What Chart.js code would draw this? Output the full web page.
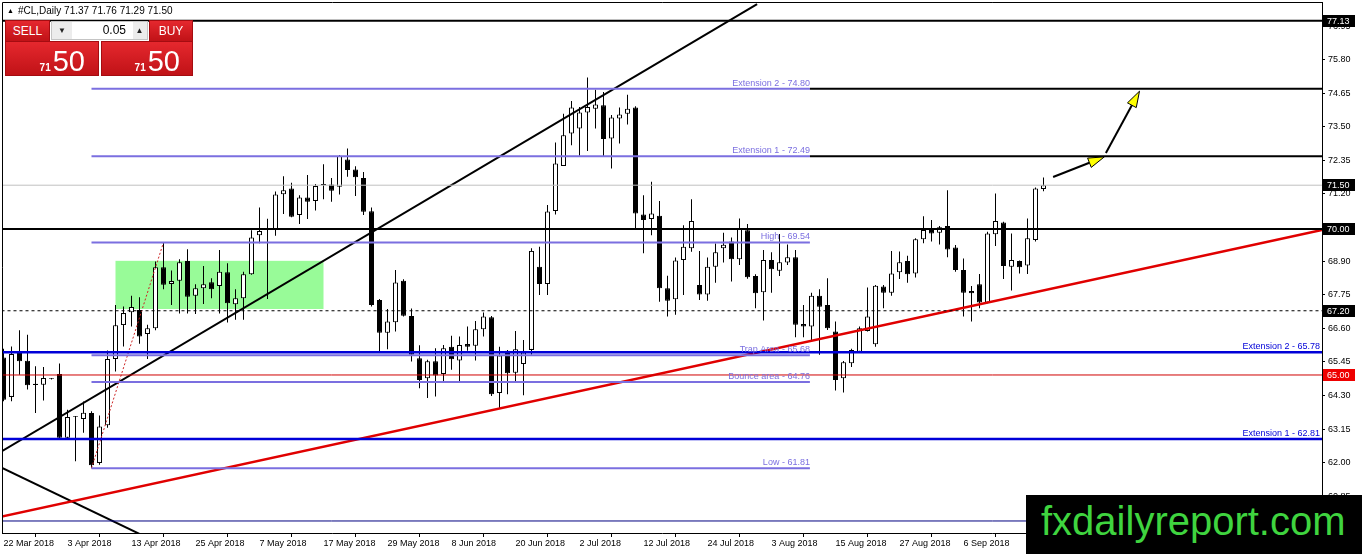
<!DOCTYPE html>
<html lang="en">
<head>
  <meta charset="UTF-8" />
  <title>#CL,Daily</title>
  <script src="https://cdn.jsdelivr.net/npm/chart.js@4.4.1/dist/chart.umd.min.js"></script>
  <style>
    html, body { margin: 0; padding: 0; background: #fff; }
    #wrap { position: relative; width: 1362px; height: 554px; overflow: hidden; font-family: "Liberation Sans", Arial, sans-serif; }
    #wrap canvas { position: absolute; left: 0; top: 0; }
    .hdr { position: absolute; left: 7px; top: 5px; font-size: 10px; line-height: 12px; color: #000; white-space: pre; }
    .hdr .tri { font-size: 7px; vertical-align: 1px; margin-right: 4px; }
    .red { position: absolute; background: linear-gradient(#e5282e, #c01217); color: #fff; border: 1px solid #a50c11; box-sizing: border-box; }
    .sell, .buy { top: 20px; height: 22px; font-size: 12px; line-height: 20px; text-align: center; }
    .sell { left: 5px; width: 45px; }
    .buy { left: 149px; width: 44px; }
    .spin { position: absolute; left: 51px; top: 21px; width: 97px; height: 19px; background: #ececec; border: 1px solid #c4c4c4; box-sizing: border-box; }
    .spin .dn, .spin .up { position: absolute; top: 0; height: 17px; font-size: 8px; line-height: 17px; text-align: center; color: #222; }
    .spin .dn { left: 0; width: 20px; }
    .spin .up { right: 0; width: 15px; }
    .spin .lot { position: absolute; left: 20px; top: 0; width: 61px; height: 17px; background: #fff; font-size: 12px; line-height: 17px; text-align: right; padding-right: 7px; box-sizing: border-box; color: #000; }
    .px { top: 41px; height: 35px; text-align: right; line-height: 38px; white-space: nowrap; }
    .px1 { left: 5px; width: 94px; padding-right: 13px; }
    .px2 { left: 101px; width: 92px; padding-right: 12px; }
    .px .sm { font-size: 10px; font-weight: bold; margin-right: 2px; }
    .px .big { font-size: 29px; }
    .wm { position: absolute; left: 1026px; top: 495px; width: 336px; height: 59px; background: #000; color: #3fd43f; font-size: 40px; line-height: 52px; padding-left: 15px; box-sizing: border-box; white-space: nowrap; }
  </style>
</head>
<body>
  <div id="wrap">
    <canvas id="cl" width="1362" height="554"></canvas>
    <div class="hdr"><span class="tri">▲</span>#CL,Daily 71.37 71.76 71.29 71.50</div>
    <div class="red sell">SELL</div>
    <div class="spin"><div class="dn">▼</div><div class="lot">0.05</div><div class="up">▲</div></div>
    <div class="red buy">BUY</div>
    <div class="red px px1"><span class="sm">71</span><span class="big">50</span></div>
    <div class="red px px2"><span class="sm">71</span><span class="big">50</span></div>
    <div class="wm">fxdailyreport.com</div>
  </div>

  <script>
    // daily candles, 22 Mar 2018 .. 20 Sep 2018 (one entry per bar)
    const opens = [
      65.60, 64.25, 65.75, 65.49, 64.66, 64.67, 64.86, 65.03, 62.85, 63.56,
      63.49, 63.70, 61.99, 63.28, 65.55, 66.71, 67.15, 67.23, 66.40, 66.60,
      68.69, 68.12, 68.23, 68.90, 67.71, 67.97, 68.18, 68.05, 68.52, 67.42,
      67.63, 68.45, 69.79, 70.02, 69.99, 71.19, 71.39, 70.48, 71.08, 70.96,
      71.50, 71.52, 71.45, 72.38, 72.04, 71.75, 70.61, 67.57, 66.45, 66.81,
      68.23, 67.02, 65.57, 64.89, 65.47, 65.03, 65.97, 65.50, 66.06, 66.00,
      66.57, 66.98, 64.38, 65.83, 65.08, 65.38, 65.86, 68.71, 68.12, 70.62,
      72.16, 73.27, 73.44, 73.99, 74.12, 74.24, 73.10, 73.78, 73.95, 74.16,
      70.50, 70.34, 70.45, 67.97, 67.59, 68.94, 69.34, 68.08, 67.76, 68.71,
      69.34, 69.57, 68.96, 69.96, 68.39, 67.83, 68.94, 68.57, 68.85, 69.03,
      66.75, 66.66, 67.71, 67.40, 66.49, 64.89, 65.40, 65.80, 66.51, 66.05,
      68.03, 67.82, 68.52, 68.90, 68.48, 69.65, 69.97, 69.87, 70.10, 69.37,
      68.60, 67.88, 68.11, 67.48, 69.82, 70.22, 68.71, 68.90, 68.75, 69.62,
      71.37
    ];
    const highs = [
      65.90, 65.98, 66.53, 66.38, 65.30, 65.27, 64.90, 65.39, 63.81, 63.60,
      64.09, 63.76, 63.61, 65.84, 67.40, 67.35, 67.71, 67.66, 66.72, 68.89,
      69.54, 68.58, 68.96, 69.31, 68.11, 68.73, 68.31, 69.28, 68.83, 67.94,
      68.54, 69.96, 70.74, 70.35, 71.28, 71.81, 71.58, 71.16, 71.85, 71.54,
      72.22, 71.75, 72.53, 72.76, 72.15, 71.95, 70.74, 67.60, 67.26, 68.60,
      68.28, 67.28, 66.02, 65.52, 65.92, 66.03, 66.34, 66.32, 66.66, 66.85,
      67.14, 67.02, 65.97, 65.86, 66.51, 66.20, 69.34, 69.39, 70.82, 72.96,
      73.95, 74.38, 74.18, 75.19, 74.77, 74.69, 73.90, 74.16, 74.60, 74.20,
      71.16, 71.62, 70.96, 68.40, 69.02, 70.13, 71.02, 69.25, 69.02, 69.50,
      69.87, 69.71, 70.36, 70.17, 68.45, 69.28, 69.20, 69.83, 69.47, 69.28,
      67.40, 67.82, 67.94, 68.31, 66.83, 65.48, 65.90, 66.66, 68.00, 68.08,
      68.08, 69.25, 69.23, 69.08, 69.68, 70.44, 70.31, 70.10, 71.33, 69.45,
      68.99, 68.05, 68.46, 69.91, 71.22, 70.25, 69.85, 68.92, 70.36, 71.42,
      71.76
    ];
    const lows = [
      64.10, 64.10, 65.01, 64.50, 63.70, 64.13, 64.85, 62.80, 62.82, 62.05,
      63.02, 61.81, 61.93, 63.19, 65.12, 65.98, 66.66, 66.07, 65.55, 66.53,
      67.94, 67.40, 67.11, 67.11, 67.09, 67.43, 67.63, 67.11, 66.80, 66.89,
      66.89, 68.43, 69.51, 67.60, 69.77, 70.51, 70.40, 70.17, 70.34, 70.63,
      71.02, 70.93, 71.18, 71.79, 71.13, 70.48, 67.35, 65.77, 65.88, 66.49,
      67.00, 65.46, 64.55, 64.21, 64.26, 64.78, 65.18, 64.78, 65.83, 65.50,
      66.32, 64.28, 63.87, 64.34, 64.78, 64.31, 65.69, 67.74, 67.74, 70.50,
      72.16, 72.87, 72.51, 72.67, 73.44, 72.47, 72.07, 72.93, 73.58, 70.00,
      69.17, 69.79, 67.51, 67.00, 67.06, 67.74, 69.22, 67.57, 67.54, 68.16,
      68.85, 68.20, 68.77, 68.30, 67.29, 66.87, 67.82, 68.39, 68.77, 66.29,
      66.29, 66.20, 65.69, 66.54, 64.47, 64.40, 65.27, 65.75, 66.49, 65.97,
      67.29, 67.71, 68.29, 68.16, 68.34, 69.51, 69.57, 69.47, 69.03, 68.54,
      67.00, 66.83, 67.29, 67.46, 69.42, 68.29, 67.89, 68.48, 68.46, 69.57,
      71.29
    ];
    const closes = [
      64.15, 65.72, 65.47, 64.65, 64.70, 64.90, 64.89, 62.85, 63.56, 63.59,
      63.71, 61.91, 63.24, 65.55, 66.70, 67.12, 67.33, 66.32, 66.60, 68.69,
      68.09, 68.22, 68.86, 67.68, 67.97, 68.11, 67.94, 68.54, 67.46, 67.63,
      68.45, 69.71, 69.93, 69.98, 71.18, 71.33, 70.42, 71.08, 70.93, 71.47,
      71.54, 71.31, 72.50, 72.02, 71.77, 70.59, 67.40, 66.45, 66.83, 68.17,
      67.03, 65.69, 64.83, 65.47, 64.98, 65.92, 65.54, 66.03, 65.97, 66.57,
      67.00, 64.34, 65.67, 65.06, 65.88, 65.77, 69.25, 68.12, 70.60, 72.24,
      73.21, 74.16, 73.99, 74.18, 74.26, 73.08, 73.82, 73.92, 74.12, 70.53,
      70.31, 70.53, 67.97, 67.54, 68.92, 69.39, 70.27, 67.76, 68.71, 69.20,
      69.46, 68.96, 70.02, 68.35, 67.80, 68.94, 68.62, 68.86, 69.03, 66.72,
      66.66, 67.71, 67.34, 66.60, 64.83, 65.44, 65.86, 66.60, 67.00, 68.06,
      67.82, 68.48, 68.86, 68.45, 69.65, 69.97, 69.85, 70.06, 69.30, 68.60,
      67.82, 67.80, 67.48, 69.85, 70.27, 68.73, 68.94, 68.69, 69.68, 71.39,
      71.50
    ];

    // one date label every 8 bars
    const dateLabels = ['22 Mar 2018', '3 Apr 2018', '13 Apr 2018', '25 Apr 2018', '7 May 2018', '17 May 2018',
      '29 May 2018', '8 Jun 2018', '20 Jun 2018', '2 Jul 2018', '12 Jul 2018', '24 Jul 2018',
      '3 Aug 2018', '15 Aug 2018', '27 Aug 2018', '6 Sep 2018'];
    const dateStep = 8;
    const priceTicks = [60.85, 62.00, 63.15, 64.30, 65.45, 66.60, 67.75, 68.90, 70.05, 71.20, 72.35, 73.50, 74.65, 75.80, 76.95];

    // drawn objects
    const blackLevels = [77.13, 70.00];
    const bidLevel = 71.50;
    const dashedLevel = 67.20;
    const redLevel = 65.00;
    const baseLevel = 60.00;
    const blueLevels = [65.78, 62.81];
    const blueLabels = ['Extension 2 - 65.78', 'Extension 1 - 62.81'];
    const fibLevels = [74.80, 72.49, 69.54, 65.68, 64.76, 61.81];
    const fibLabels = ['Extension 2 - 74.80', 'Extension 1 - 72.49', 'High - 69.54', 'Trap Area - 65.68', 'Bounce area - 64.76', 'Low - 61.81'];
    const fibSpan = [11, 100.8];
    const targetLevels = [74.80, 72.49];
    const channelUp = [[-0.44, 62.35], [94.2, 77.70]];
    const channelDown = [[-0.44, 61.85], [17.06, 59.55]];
    const supportLine = [[-0.44, 60.14], [164.8, 69.97]];
    const swingLine = [[11, 61.81], [20, 69.54]];
    const rangeBox = [14, 40, 67.26, 68.91];
    const arrows = [[131.2, 71.78, 137.6, 72.47], [137.8, 72.60, 142.0, 74.72]];
    const priceTags = [77.13, 71.50, 70.00, 67.20, 65.00];

    const FONT = '"Liberation Sans", Arial, sans-serif';
    const xMin = -0.1875, xMax = 164.8125;
    const yMin = 59.589, yMax = 77.774;

    function seg(points, color, width, dash, order) {
      return {
        type: 'line',
        data: points.map(p => ({ x: p[0], y: p[1] })),
        borderColor: color,
        borderWidth: width,
        borderDash: dash || [],
        pointRadius: 0,
        fill: false,
        tension: 0,
        order: order === undefined ? 0 : order
      };
    }
    const full = y => [[-1, y], [166, y]];

    const datasets = [
      {
        type: 'bar',
        data: opens.map((o, i) => ({ x: i, y: [o, closes[i]] })),
        backgroundColor: opens.map((o, i) => closes[i] >= o ? '#ffffff' : '#000000'),
        borderColor: '#000',
        borderWidth: 1,
        borderSkipped: false,
        barThickness: 5,
        grouped: false,
        inflateAmount: 0,
        order: 1
      },
      {
        type: 'bar',
        data: lows.map((l, i) => ({ x: i, y: [l, highs[i]] })),
        backgroundColor: '#000',
        borderWidth: 0,
        barThickness: 1,
        grouped: false,
        inflateAmount: 0,
        order: 2
      },
      seg(full(baseLevel), '#000080', 1),
      seg(full(bidLevel), '#c0c0c0', 1),
      seg(full(dashedLevel), '#000', 1, [3, 3]),
      seg(full(redLevel), '#d00000', 1),
      ...blueLevels.map(v => seg(full(v), '#0000d8', 2.5)),
      ...blackLevels.map(v => seg(full(v), '#000', 2)),
      ...targetLevels.map(v => seg([[fibSpan[1], v], [166, v]], '#000', 2)),
      ...fibLevels.map(v => seg([[fibSpan[0], v], [fibSpan[1], v]], '#7b6fe0', 2)),
      seg(swingLine, '#cc2222', 1, [2, 2]),
      seg(supportLine, '#e00000', 2.5),
      seg(channelUp, '#000', 2),
      seg(channelDown, '#000', 2)
    ];

    function drawArrow(ctx, x0, y0, x1, y1) {
      const len = Math.hypot(x1 - x0, y1 - y0);
      const ux = (x1 - x0) / len, uy = (y1 - y0) / len;
      const hl = 16, hw = 5;
      const bx = x1 - ux * hl, by = y1 - uy * hl;
      ctx.strokeStyle = '#000';
      ctx.lineWidth = 2;
      ctx.beginPath();
      ctx.moveTo(x0, y0);
      ctx.lineTo(bx, by);
      ctx.stroke();
      ctx.beginPath();
      ctx.moveTo(x1, y1);
      ctx.lineTo(bx - uy * hw, by + ux * hw);
      ctx.lineTo(bx + uy * hw, by - ux * hw);
      ctx.closePath();
      ctx.fillStyle = '#ffff00';
      ctx.fill();
      ctx.lineWidth = 1;
      ctx.stroke();
    }

    const overlay = {
      id: 'overlay',
      beforeDatasetsDraw(chart) {
        const { ctx, scales: { x, y } } = chart;
        const x0 = x.getPixelForValue(rangeBox[0]), x1 = x.getPixelForValue(rangeBox[1]);
        const y0 = y.getPixelForValue(rangeBox[3]), y1 = y.getPixelForValue(rangeBox[2]);
        ctx.save();
        ctx.fillStyle = '#98fb98';
        ctx.fillRect(x0, y0, x1 - x0, y1 - y0);
        ctx.restore();
      },
      afterDatasetsDraw(chart) {
        const { ctx, chartArea: a, scales: { x, y } } = chart;
        ctx.save();
        ctx.font = '9px ' + FONT;
        ctx.textBaseline = 'bottom';
        ctx.textAlign = 'right';
        // fibo labels
        ctx.fillStyle = '#7b6fe0';
        const fx = x.getPixelForValue(fibSpan[1]);
        fibLevels.forEach((v, i) => ctx.fillText(fibLabels[i], fx, y.getPixelForValue(v) - 1));
        // blue line labels
        ctx.fillStyle = '#0000d8';
        blueLevels.forEach((v, i) => ctx.fillText(blueLabels[i], a.right - 2, y.getPixelForValue(v) - 1));
        // arrows
        ctx.beginPath();
        ctx.rect(a.left, a.top, a.right - a.left, a.bottom - a.top);
        ctx.clip();
        arrows.forEach(r => drawArrow(ctx, x.getPixelForValue(r[0]), y.getPixelForValue(r[1]),
          x.getPixelForValue(r[2]), y.getPixelForValue(r[3])));
        ctx.restore();
        // frame left / top
        ctx.save();
        ctx.strokeStyle = '#000';
        ctx.lineWidth = 1;
        ctx.beginPath();
        ctx.moveTo(a.left + 0.5, a.bottom);
        ctx.lineTo(a.left + 0.5, a.top + 0.5);
        ctx.lineTo(a.right, a.top + 0.5);
        ctx.stroke();
        ctx.restore();
      },
      afterDraw(chart) {
        const { ctx, chartArea: a, scales: { y } } = chart;
        ctx.save();
        ctx.font = '9px ' + FONT;
        ctx.textBaseline = 'middle';
        ctx.textAlign = 'left';
        priceTags.forEach(v => {
          const py = Math.round(y.getPixelForValue(v));
          ctx.fillStyle = v === redLevel ? '#ee0000' : '#000';
          ctx.fillRect(a.right + 1, py - 6, 32, 12);
          ctx.fillStyle = '#fff';
          ctx.fillText(v.toFixed(2), a.right + 5, py + 0.5);
        });
        ctx.restore();
      }
    };

    new Chart(document.getElementById('cl'), {
      type: 'bar',
      data: { datasets },
      options: {
        responsive: false,
        animation: false,
        events: [],
        layout: { padding: { left: 2, top: 2, right: 0, bottom: 0 } },
        plugins: { legend: { display: false }, tooltip: { enabled: false } },
        scales: {
          x: {
            type: 'linear',
            min: xMin,
            max: xMax,
            offset: false,
            afterBuildTicks: s => { s.ticks = dateLabels.map((_, i) => ({ value: i * dateStep })); },
            afterFit: s => { s.height = 21; s.paddingLeft = 0; s.paddingRight = 0; },
            ticks: {
              autoSkip: false, maxRotation: 0, minRotation: 0, align: 'start', padding: 1,
              color: '#000', font: { family: FONT, size: 9 },
              callback: (v, i) => dateLabels[i]
            },
            grid: { drawOnChartArea: false, drawTicks: true, tickLength: 4, color: '#000' },
            border: { display: true, color: '#000', width: 1 }
          },
          y: {
            position: 'right',
            min: yMin,
            max: yMax,
            afterBuildTicks: s => { s.ticks = priceTicks.map(v => ({ value: v })); },
            afterFit: s => { s.width = 40; s.paddingTop = 0; s.paddingBottom = 0; },
            ticks: {
              padding: 3, color: '#000', font: { family: FONT, size: 9 },
              callback: v => Number(v).toFixed(2)
            },
            grid: { drawOnChartArea: false, drawTicks: true, tickLength: 3, color: '#000' },
            border: { display: true, color: '#000', width: 1 }
          }
        }
      },
      plugins: [overlay]
    });
  </script>
</body>
</html>
